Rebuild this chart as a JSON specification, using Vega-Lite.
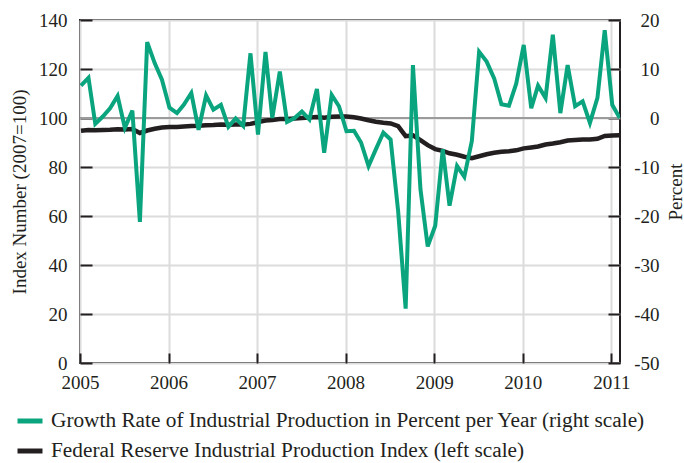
{
  "$schema": "https://vega.github.io/schema/vega-lite/v6.json",
  "width": 540,
  "height": 343,
  "autosize": {"type": "none"},
  "padding": {"left": 80, "top": 20, "right": 64, "bottom": 100},
  "background": "white",
  "config": {
    "view": {"stroke": "#231f20", "strokeWidth": 2},
    "font": "Liberation Serif",
    "axis": {
      "labelFont": "Liberation Serif",
      "labelFontSize": 19,
      "labelColor": "#231f20",
      "titleFont": "Liberation Serif",
      "titleFontSize": 19,
      "titleFontWeight": "normal",
      "titleColor": "#231f20",
      "domain": false,
      "tickColor": "#231f20",
      "tickWidth": 2,
      "gridColor": "#dcdcdc",
      "gridWidth": 2,
      "labelFlush": false,
      "labelOverlap": false
    }
  },
  "data": {
    "values": [
      {"date": "2005-01-05", "growth": 6.6, "index": 94.8},
      {"date": "2005-02-05", "growth": 8.2, "index": 95.1},
      {"date": "2005-03-05", "growth": -1.2, "index": 95.0},
      {"date": "2005-04-05", "growth": 0.3, "index": 95.1},
      {"date": "2005-05-05", "growth": 2.0, "index": 95.2},
      {"date": "2005-06-05", "growth": 4.5, "index": 95.4},
      {"date": "2005-07-05", "growth": -2.0, "index": 95.3},
      {"date": "2005-08-05", "growth": 1.5, "index": 95.5},
      {"date": "2005-09-05", "growth": -21.2, "index": 93.9},
      {"date": "2005-10-05", "growth": 15.5, "index": 94.9},
      {"date": "2005-11-05", "growth": 11.2, "index": 95.6},
      {"date": "2005-12-05", "growth": 7.8, "index": 96.1},
      {"date": "2006-01-05", "growth": 2.1, "index": 96.3},
      {"date": "2006-02-05", "growth": 1.0, "index": 96.3},
      {"date": "2006-03-05", "growth": 2.7, "index": 96.5},
      {"date": "2006-04-05", "growth": 5.1, "index": 96.7},
      {"date": "2006-05-05", "growth": -2.4, "index": 96.8},
      {"date": "2006-06-05", "growth": 4.6, "index": 97.0},
      {"date": "2006-07-05", "growth": 1.7, "index": 97.1},
      {"date": "2006-08-05", "growth": 2.7, "index": 97.3},
      {"date": "2006-09-05", "growth": -1.8, "index": 97.2},
      {"date": "2006-10-05", "growth": -0.1, "index": 97.3},
      {"date": "2006-11-05", "growth": -1.6, "index": 97.3},
      {"date": "2006-12-05", "growth": 13.2, "index": 97.6},
      {"date": "2007-01-05", "growth": -3.4, "index": 98.3},
      {"date": "2007-02-05", "growth": 13.5, "index": 99.0},
      {"date": "2007-03-05", "growth": 0.0, "index": 99.2},
      {"date": "2007-04-05", "growth": 9.5, "index": 99.6},
      {"date": "2007-05-05", "growth": -0.8, "index": 99.6},
      {"date": "2007-06-05", "growth": 0.0, "index": 99.8},
      {"date": "2007-07-05", "growth": 1.3, "index": 100.0},
      {"date": "2007-08-05", "growth": -0.3, "index": 100.2},
      {"date": "2007-09-05", "growth": 5.9, "index": 100.4},
      {"date": "2007-10-05", "growth": -7.1, "index": 100.1},
      {"date": "2007-11-05", "growth": 4.7, "index": 100.5},
      {"date": "2007-12-05", "growth": 2.4, "index": 100.6},
      {"date": "2008-01-05", "growth": -2.7, "index": 100.6},
      {"date": "2008-02-05", "growth": -2.6, "index": 100.3},
      {"date": "2008-03-05", "growth": -5.0, "index": 99.8},
      {"date": "2008-04-05", "growth": -9.8, "index": 99.1},
      {"date": "2008-05-05", "growth": -6.4, "index": 98.5},
      {"date": "2008-06-05", "growth": -3.0, "index": 98.1},
      {"date": "2008-07-05", "growth": -4.4, "index": 97.8},
      {"date": "2008-08-05", "growth": -19.0, "index": 96.7},
      {"date": "2008-09-05", "growth": -38.9, "index": 92.6},
      {"date": "2008-10-05", "growth": 10.8, "index": 92.9},
      {"date": "2008-11-05", "growth": -14.5, "index": 91.0},
      {"date": "2008-12-05", "growth": -26.2, "index": 88.9},
      {"date": "2009-01-05", "growth": -22.0, "index": 87.3},
      {"date": "2009-02-05", "growth": -6.4, "index": 86.6},
      {"date": "2009-03-05", "growth": -17.9, "index": 85.6},
      {"date": "2009-04-05", "growth": -9.8, "index": 85.0},
      {"date": "2009-05-05", "growth": -12.0, "index": 84.2},
      {"date": "2009-06-05", "growth": -4.7, "index": 83.6},
      {"date": "2009-07-05", "growth": 13.5, "index": 84.4},
      {"date": "2009-08-05", "growth": 11.5, "index": 85.2},
      {"date": "2009-09-05", "growth": 8.1, "index": 85.8},
      {"date": "2009-10-05", "growth": 2.8, "index": 86.2},
      {"date": "2009-11-05", "growth": 2.5, "index": 86.4},
      {"date": "2009-12-05", "growth": 7.0, "index": 86.8},
      {"date": "2010-01-05", "growth": 14.9, "index": 87.6},
      {"date": "2010-02-05", "growth": 2.0, "index": 88.0},
      {"date": "2010-03-05", "growth": 6.6, "index": 88.4},
      {"date": "2010-04-05", "growth": 4.1, "index": 89.2},
      {"date": "2010-05-05", "growth": 17.0, "index": 89.6},
      {"date": "2010-06-05", "growth": 1.0, "index": 90.1},
      {"date": "2010-07-05", "growth": 10.8, "index": 90.8},
      {"date": "2010-08-05", "growth": 2.4, "index": 91.0},
      {"date": "2010-09-05", "growth": 3.4, "index": 91.2},
      {"date": "2010-10-05", "growth": -1.0, "index": 91.2},
      {"date": "2010-11-05", "growth": 4.1, "index": 91.5},
      {"date": "2010-12-05", "growth": 17.9, "index": 92.7},
      {"date": "2011-01-05", "growth": 2.7, "index": 92.9},
      {"date": "2011-02-05", "growth": 0.0, "index": 93.0}
    ]
  },
  "encoding": {
    "x": {
      "field": "date",
      "type": "temporal",
      "scale": {"domain": ["2005-01-01", "2011-02-06"]},
      "axis": {
        "title": null,
        "format": "%Y",
        "tickCount": {"interval": "year", "step": 1},
        "grid": true,
        "tickSize": -10,
        "labelPadding": 20
      }
    }
  },
  "layer": [
    {
      "layer": [
        {
          "mark": {"type": "rule", "color": "#9b9b9b", "strokeWidth": 2},
          "encoding": {
            "x": {"value": 0},
            "x2": {"value": 540},
            "y": {"datum": 100, "type": "quantitative"}
          }
        },
        {
          "mark": {"type": "line", "strokeWidth": 4.5, "clip": true},
          "encoding": {
            "y": {
              "field": "index",
              "type": "quantitative",
              "scale": {"domain": [0, 140]},
              "axis": {
                "title": "Index Number (2007=100)",
                "orient": "left",
                "values": [0, 20, 40, 60, 80, 100, 120, 140],
                "grid": true,
                "tickSize": -12,
                "labelPadding": 25,
                "titleX": -61,
                "titleY": 171.5,
                "titleAngle": 270,
                "titleBaseline": "middle",
                "titleAlign": "center"
              }
            },
            "color": {
              "datum": "Federal Reserve Industrial Production Index (left scale)",
              "type": "nominal",
              "scale": {
                "domain": [
                  "Growth Rate of Industrial Production in Percent per Year (right scale)",
                  "Federal Reserve Industrial Production Index (left scale)"
                ],
                "range": ["#0aa57f", "#231f20"]
              },
              "legend": {
                "title": null,
                "orient": "none",
                "legendX": -65,
                "legendY": 386,
                "symbolType": "stroke",
                "symbolStrokeWidth": 5,
                "symbolSize": 625,
                "labelFont": "Liberation Serif",
                "labelFontSize": 21.3,
                "labelColor": "#231f20",
                "labelOffset": 6,
                "labelLimit": 0,
                "rowPadding": 4
              }
            }
          }
        }
      ]
    },
    {
      "mark": {"type": "line", "strokeWidth": 4, "clip": true},
      "encoding": {
        "y": {
          "field": "growth",
          "type": "quantitative",
          "scale": {"domain": [-50, 20]},
          "axis": {
            "title": "Percent",
            "orient": "right",
            "values": [-50, -40, -30, -20, -10, 0, 10, 20],
            "labelExpr": "'' + datum.value",
            "grid": false,
            "tickSize": -12,
            "labelAlign": "right",
            "labelPadding": 51,
            "titleX": 55,
            "titleY": 171.5,
            "titleAngle": 270,
            "titleBaseline": "middle",
            "titleAlign": "center"
          }
        },
        "color": {
          "datum": "Growth Rate of Industrial Production in Percent per Year (right scale)",
          "type": "nominal"
        }
      }
    }
  ],
  "resolve": {"scale": {"y": "independent"}}
}
